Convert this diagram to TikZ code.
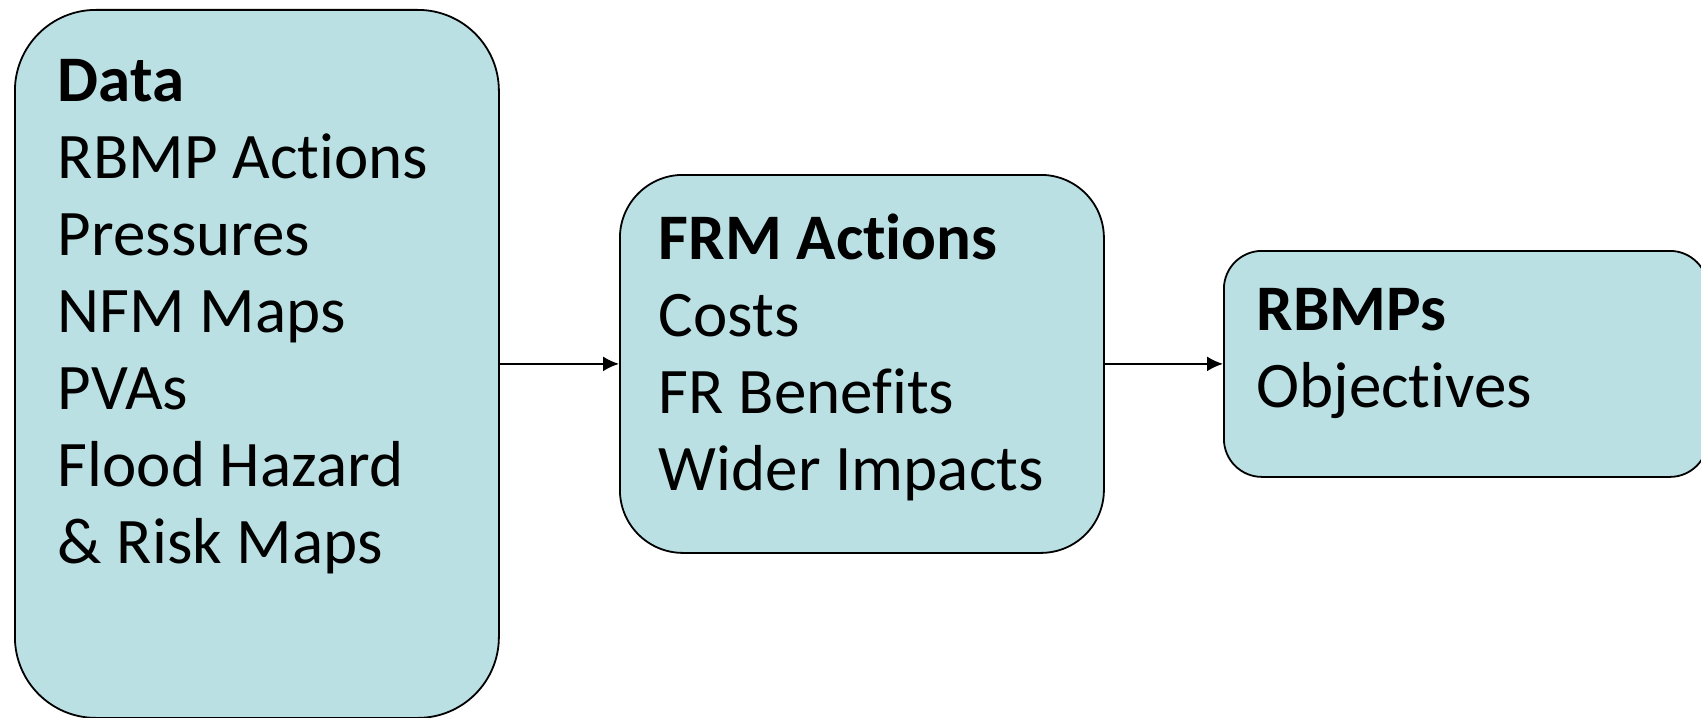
\documentclass[tikz,border=0pt]{standalone}
\usepackage{fontspec}
\setmainfont{Carlito}[Ligatures=NoCommon]
\usetikzlibrary{positioning,calc,arrows.meta}
\definecolor{boxfill}{RGB}{187,224,227}

\begin{document}
\begin{tikzpicture}[x=0.5pt,y=-0.5pt]
  \useasboundingbox (0,0) rectangle (1701,717);
  \clip (0,0) rectangle (1701,717);
  \begin{scope}[
    every node/.style={
      draw=black,
      fill=boxfill,
      line width=0.9pt,
      inner sep=0pt,
      anchor=north west,
      minimum width=242pt,
    },
    ]
    \node[minimum height=354pt,rounded corners=40.5pt]   (data)  at (14,9)    {};
    \node[minimum height=189pt,rounded corners=31.5pt]   (frm)   at (619,174) {};
    \node[minimum height=113pt,rounded corners=19pt]     (rbmps) at (1223,250) {};
  \end{scope}
  \begin{scope}[
    every node/.style={
      align=left,
      anchor=base west,
      inner sep=0pt,
      font=\fontsize{32.5}{38.5}\selectfont,
    },
    ]
    \node (data-text)  at ($(data.north west)+(43.5,554)$)
      {\textbf{Data}\\RBMP Actions\\Pressures\\NFM Maps\\PVAs\\Flood Hazard\\\& Risk Maps};
    \node (frm-text)   at ($(frm.north west)+(39.5,316.5)$)
      {\textbf{FRM Actions}\\Costs\\FR Benefits\\Wider Impacts};
    \node (rbmps-text) at ($(rbmps.north west)+(33,157)$)
      {\textbf{RBMPs}\\Objectives};
  \end{scope}
  \begin{scope}[
    every path/.style={draw,line width=0.9pt,-{Latex[length=8pt,width=7.5pt]}},
    ]
    \path (data) -- (frm);
    \path (frm)  -- (rbmps);
  \end{scope}
\end{tikzpicture}
\end{document}
